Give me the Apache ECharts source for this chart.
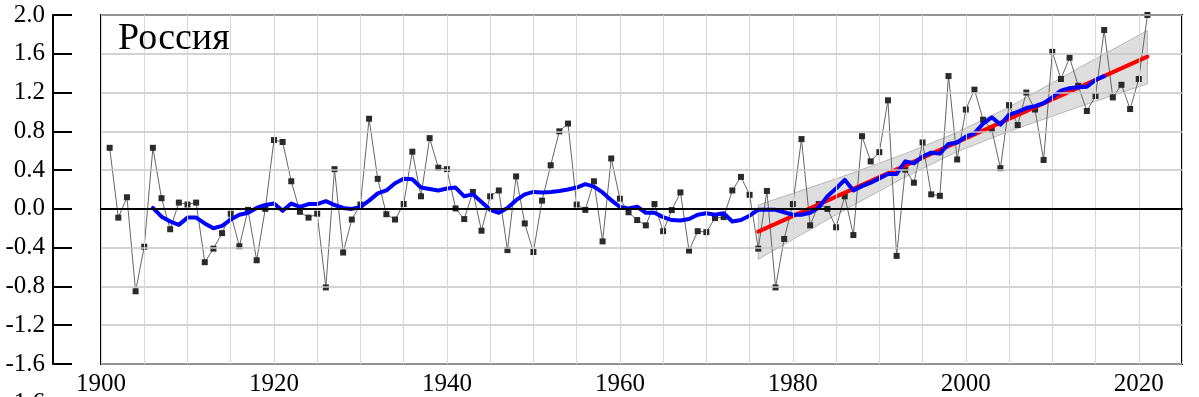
<!DOCTYPE html>
<html>
<head>
<meta charset="utf-8">
<script src="https://cdn.jsdelivr.net/npm/echarts@6/dist/echarts.min.js"></script>
<style>
html,body{margin:0;padding:0;background:#fff;}
#chart{width:1199px;height:397px;}
</style>
</head>
<body>
<div id="chart"></div>
<script>
// ---- Data ----
const chartTitle = 'Россия';
const firstYear = 1901;
const annualValues = [
  0.63, -0.09, 0.12, -0.85, -0.39, 0.63, 0.11, -0.21, 0.065, 0.045,
  0.065, -0.55, -0.41, -0.25, -0.05, -0.385, -0.01, -0.53, 0.00, 0.71,
  0.69, 0.285, -0.03, -0.09, -0.05, -0.81, 0.41, -0.45, -0.11, 0.045,
  0.93, 0.31, -0.055, -0.11, 0.05, 0.59, 0.13, 0.73, 0.425, 0.41,
  0.005, -0.105, 0.175, -0.225, 0.13, 0.19, -0.425, 0.335, -0.15, -0.445,
  0.085, 0.45, 0.80, 0.88, 0.045, -0.01, 0.285, -0.335, 0.52, 0.105,
  -0.035, -0.115, -0.17, 0.05, -0.23, -0.012, 0.17, -0.43, -0.23, -0.24,
  -0.095, -0.085, 0.19, 0.33, 0.145, -0.41, 0.185, -0.81, -0.31, 0.05,
  0.72, -0.17, 0.05, 0.0, -0.19, 0.13, -0.27, 0.75, 0.49, 0.585,
  1.12, -0.485, 0.405, 0.27, 0.685, 0.15, 0.135, 1.37, 0.51, 1.025,
  1.23, 0.92, 0.82, 0.42, 1.07, 0.865, 1.20, 1.025, 0.505, 1.62,
  1.34, 1.56, 1.27, 1.01, 1.165, 1.845, 1.15, 1.28, 1.03, 1.34,
  2.0
];
const smoothFirstYear = 1906;
const smoothValues = [
  0.01, -0.08, -0.13, -0.165, -0.09, -0.09, -0.15, -0.2, -0.175, -0.11,
  -0.06, -0.04, 0.01, 0.04, 0.055, -0.02, 0.055, 0.02, 0.05, 0.05,
  0.08, 0.04, 0.01, 0.0, 0.02, 0.085, 0.16, 0.19, 0.265, 0.31,
  0.305, 0.22, 0.205, 0.19, 0.21, 0.22, 0.13, 0.15, 0.07, -0.01,
  -0.04, 0.01, 0.09, 0.15, 0.175, 0.17, 0.175, 0.185, 0.20, 0.22,
  0.255, 0.23, 0.17, 0.09, 0.02, 0.005, 0.022, -0.04, -0.04, -0.085,
  -0.115, -0.12, -0.105, -0.06, -0.045, -0.06, -0.045, -0.13, -0.115, -0.07,
  -0.01, -0.01, -0.01, -0.035, -0.06, -0.06, -0.04, 0.015, 0.13, 0.21,
  0.30, 0.19, 0.235, 0.27, 0.315, 0.36, 0.36, 0.49, 0.47, 0.54,
  0.58, 0.57, 0.67, 0.685, 0.745, 0.78, 0.88, 0.945, 0.87, 0.97,
  1.0, 1.04, 1.06, 1.09, 1.15, 1.22, 1.245, 1.255, 1.26, 1.33,
  1.37
];
const trendYears = [1976, 2021];
const trendValues = [-0.235, 1.57];
const bandYears = [1976, 1985, 1993, 1999, 2005, 2013, 2021];
const bandUpper = [0.04, 0.31, 0.57, 0.79, 1.05, 1.45, 1.84];
const bandLower = [-0.52, -0.06, 0.33, 0.59, 0.80, 1.05, 1.29];
const xLabelYears = [1900, 1920, 1940, 1960, 1980, 2000, 2020];

// ---- Build series data ----
const annualData = annualValues.map((v, i) => [firstYear + i, v]);
const smoothData = smoothValues.map((v, i) => [smoothFirstYear + i, v]);
const trendData = trendYears.map((y, i) => [y, trendValues[i]]);

const FAMILY = 'Liberation Serif';

// near-invisible primer glyphs drawn first (lowest z) in the blank bottom-right corner
const primers = [];
for (let i = 0; i < 30; i++) {
  primers.push({type: 'text', left: 1188, top: 372, z: -50, silent: true,
    style: {text: '.', fontFamily: FAMILY, fontSize: i % 2 ? 38 : 25, fill: 'rgba(255,255,255,0.02)'}});
}

const chart = echarts.init(document.getElementById('chart'), null, {renderer: 'canvas'});
chart.setOption({
  animation: false,
  backgroundColor: '#fff',
  grid: {left: 101, right: 17, top: 15, bottom: 33, show: true,
         borderColor: '#000', borderWidth: 2, backgroundColor: 'transparent'},
  xAxis: {
    type: 'value', min: 1900, max: 2025, interval: 5, z: 10,
    axisLine: {show: true, lineStyle: {color: '#000', width: 2}},
    axisTick: {show: false},
    axisLabel: {
      margin: 8, color: '#000', fontFamily: FAMILY, fontSize: 25,
      formatter: v => xLabelYears.indexOf(v) >= 0 ? String(v) : ''
    },
    splitLine: {show: true, lineStyle: {color: '#d6d6d6', width: 1}}
  },
  yAxis: {
    type: 'value', min: -1.6, max: 2.0, interval: 0.4, offset: 48, z: 10,
    axisLine: {show: true, lineStyle: {color: '#000', width: 2}},
    axisTick: {show: true, inside: true, length: 19, lineStyle: {color: '#000', width: 2}},
    axisLabel: {
      margin: 8, color: '#000', fontFamily: FAMILY, fontSize: 25,
      formatter: v => (Math.abs(v) < 1e-9 ? 0 : v).toFixed(1)
    },
    splitLine: {show: true, lineStyle: {color: '#c4c4c4', width: 1.5}}
  },
  graphic: primers.concat([
    {type: 'text', left: 118, top: 20, z: 100,
     style: {text: chartTitle, fontFamily: FAMILY, fontSize: 38, fill: '#000'}},
    {type: 'text', right: 1199 - 45, top: 390.6, z: 100,
     style: {text: '-1.6', fontFamily: FAMILY, fontSize: 25, fill: '#000'}}
  ]),
  series: [
    {
      type: 'custom', z: 1, silent: true,
      data: [[bandYears[0], bandUpper[0]]],
      renderItem: function (params, api) {
        const pts = [];
        for (let i = 0; i < bandYears.length; i++) pts.push(api.coord([bandYears[i], bandUpper[i]]));
        for (let i = bandYears.length - 1; i >= 0; i--) pts.push(api.coord([bandYears[i], bandLower[i]]));
        return {type: 'polygon', shape: {points: pts},
                style: {fill: 'rgba(200,200,200,0.6)', stroke: '#a8a8a8', lineWidth: 0.8}};
      }
    },
    {
      type: 'line', z: 2, data: annualData, symbol: 'rect', symbolSize: 6,
      itemStyle: {color: '#2a2a2a'},
      lineStyle: {color: '#666', width: 1},
      markLine: {
        silent: true, symbol: 'none', label: {show: false},
        lineStyle: {color: '#000', width: 2, type: 'solid'},
        data: [{yAxis: 0}]
      }
    },
    {
      type: 'line', z: 3, data: trendData, showSymbol: false, symbol: 'none',
      lineStyle: {color: '#ff0000', width: 4, cap: 'round'}
    },
    {
      type: 'line', z: 4, data: smoothData, showSymbol: false, symbol: 'none',
      lineStyle: {color: '#0000ff', width: 4, join: 'round', cap: 'round'}
    }
  ]
});
</script>
</body>
</html>
